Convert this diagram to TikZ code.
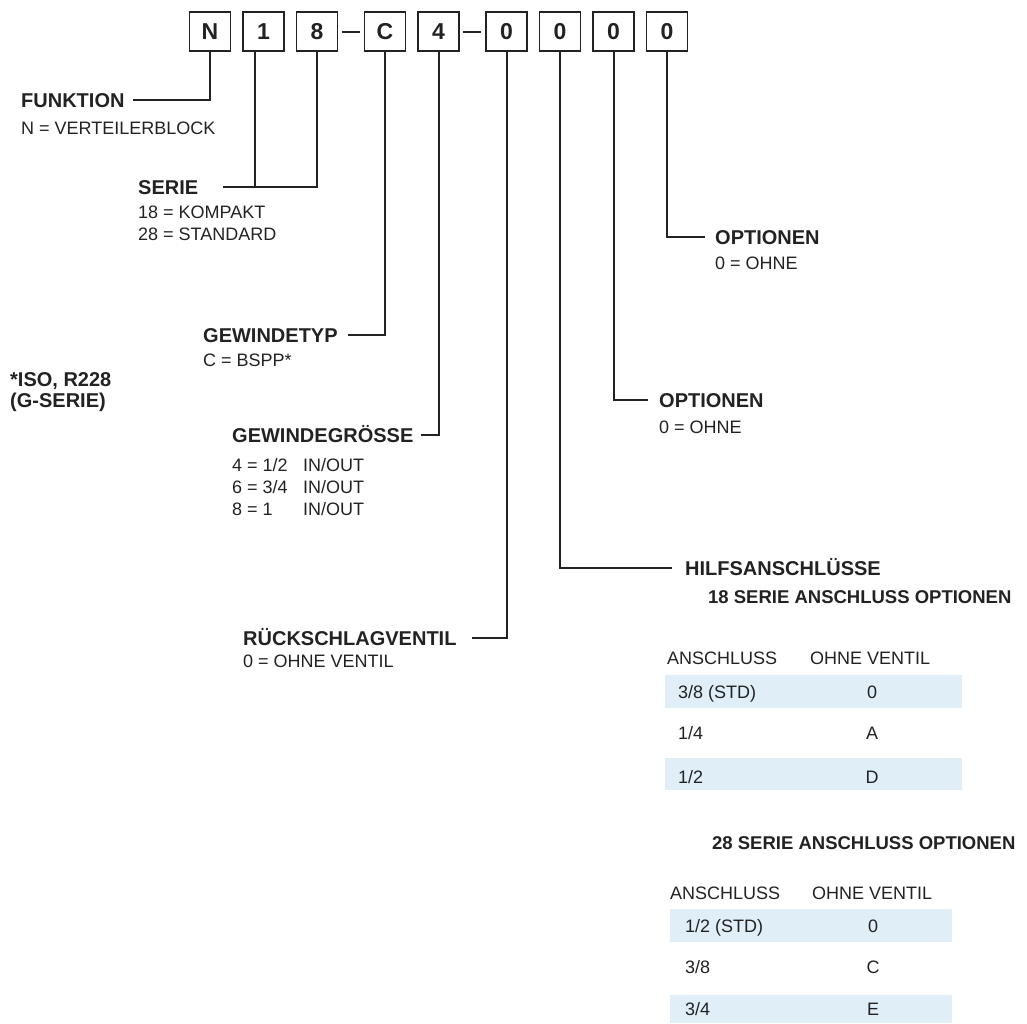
\documentclass[tikz,border=0pt]{standalone}
\usepackage{fontspec}
\setmainfont{Liberation Sans}
\usetikzlibrary{positioning}
\definecolor{bandblue}{RGB}{224,238,248}
\definecolor{inkgray}{RGB}{34,34,34}
\newcommand{\hfont}{\fontsize{20}{20}\selectfont\bfseries}
\newcommand{\dfont}{\fontsize{18}{22}\selectfont}
\newcommand{\tfont}{\fontsize{18.5}{18.5}\selectfont\bfseries}

\begin{document}
\begin{tikzpicture}[x=1pt, y=-1pt,
  digit/.style={draw=inkgray, line width=1.8pt, minimum width=41pt, minimum height=39pt,
                inner sep=0pt, outer sep=0pt, font=\fontsize{23}{23}\selectfont\bfseries, text=inkgray},
  head/.style={anchor=west, inner sep=0pt, font=\hfont, text=inkgray,
               text height=14.3pt, text depth=0pt},
  desc/.style={anchor=base west, inner sep=0pt, align=left, font=\dfont, text=inkgray},
  thead/.style={anchor=west, inner sep=0pt, font=\tfont, text=inkgray,
                text height=13.3pt, text depth=0pt},
  cell/.style={anchor=base west, inner sep=0pt, font=\dfont, text=inkgray},
  valcell/.style={anchor=base, inner sep=0pt, font=\dfont, text=inkgray},
  conn/.style={draw=inkgray, line width=2pt},
  band/.style={fill=bandblue, draw=none},
]
\useasboundingbox (0,0) rectangle (1027,1023);

% code boxes N18-C4-0000
\node[digit] (bN) at (210,31.5) {N};
\node[digit, right=12.5pt of bN] (b1) {1};
\node[digit, right=12.5pt of b1] (b8) {8};
\node[digit, right=27pt of b8] (bC) {C};
\node[digit, right=12.5pt of bC] (b4) {4};
\node[digit, right=27pt of b4] (b0a) {0};
\node[digit, right=12.5pt of b0a] (b0b) {0};
\node[digit, right=12.5pt of b0b] (b0c) {0};
\node[digit, right=12.5pt of b0c] (b0d) {0};

% dashes between groups
\draw[conn, shorten <=4pt, shorten >=5pt] (b8) -- (bC);
\draw[conn, shorten <=4pt, shorten >=5pt] (b4) -- (b0a);

% left hand labels (base of a multi-line desc is its last line)
\node[head] (funk) at (21,100) {FUNKTION};
\node[desc] (funkD) at ([yshift=-27pt]funk.base west) {N = VERTEILERBLOCK};

\node[head] (serie) at (138,187) {SERIE};
\node[desc] (serieD) at ([yshift=-46pt]serie.base west) {18 = KOMPAKT\\28 = STANDARD};

\node[head] (gtyp) at (203,335) {GEWINDETYP};
\node[desc] (gtypD) at ([yshift=-24pt]gtyp.base west) {C = BSPP*};

\node[desc, font=\fontsize{20}{20.5}\selectfont\bfseries] (iso) at (10,407) {*ISO, R228\\(G-SERIE)};

\node[head] (ggr) at (232,435) {GEWINDEGRÖSSE};
\node[desc] (ggrD) at ([yshift=-73pt]ggr.base west) {%
  \makebox[71pt][l]{4 = 1/2}IN/OUT\\
  \makebox[71pt][l]{6 = 3/4}IN/OUT\\
  \makebox[71pt][l]{8 = 1}IN/OUT};

\node[head] (rsv) at (243,638) {RÜCKSCHLAGVENTIL};
\node[desc] (rsvD) at ([yshift=-22pt]rsv.base west) {0 = OHNE VENTIL};

% right hand labels
\node[head] (opt1) at (715,237) {OPTIONEN};
\node[desc] (opt1D) at ([yshift=-25pt]opt1.base west) {0 = OHNE};

\node[head] (opt2) at (659,400) {OPTIONEN};
\node[desc] (opt2D) at ([yshift=-26pt]opt2.base west) {0 = OHNE};

\node[head] (hilfs) at (685,568) {HILFSANSCHLÜSSE};

% connectors
\draw[conn] (bN.south) |- ([xshift=8pt]funk.east);
\draw[conn] ([xshift=-9pt]b1.south) -- ([xshift=-9pt]b1.south |- serie.east);
\draw[conn] (b8.south) |- ([xshift=25pt]serie.east);
\draw[conn] (bC.south) |- ([xshift=10pt]gtyp.east);
\draw[conn] (b4.south) |- ([xshift=7pt]ggr.east);
\draw[conn] (b0a.south) |- ([xshift=15pt]rsv.east);
\draw[conn] (b0b.south) |- ([xshift=-13pt]hilfs.west);
\draw[conn] (b0c.south) |- ([xshift=-11pt]opt2.west);
\draw[conn] (b0d.south) |- ([xshift=-10pt]opt1.west);

% table 18 serie
\node[thead] (t18) at (708,597) {18 SERIE ANSCHLUSS OPTIONEN};
\fill[band] (665,675) rectangle (962,708);
\fill[band] (665,758) rectangle (962,790);
\node[cell] (t18h1) at (667,664.5) {ANSCHLUSS};
\node[cell] (t18h2) at (810,664.5) {OHNE VENTIL};
\node[cell] (t18a) at (678,698.5) {3/8 (STD)};
\node[valcell] (t18av) at (872,698.5) {0};
\node[cell] (t18b) at (678,739.5) {1/4};
\node[valcell] (t18bv) at (872,739.5) {A};
\node[cell] (t18c) at (678,783.5) {1/2};
\node[valcell] (t18cv) at (872,783.5) {D};

% table 28 serie
\node[thead] (t28) at (712,843) {28 SERIE ANSCHLUSS OPTIONEN};
\fill[band] (670,909) rectangle (952,942);
\fill[band] (670,995) rectangle (952,1023);
\node[cell] (t28h1) at (670,899.5) {ANSCHLUSS};
\node[cell] (t28h2) at (812,899.5) {OHNE VENTIL};
\node[cell] (t28a) at (685,932.5) {1/2 (STD)};
\node[valcell] (t28av) at (873,932.5) {0};
\node[cell] (t28b) at (685,973.5) {3/8};
\node[valcell] (t28bv) at (873,973.5) {C};
\node[cell] (t28c) at (685,1015.5) {3/4};
\node[valcell] (t28cv) at (873,1015.5) {E};

\end{tikzpicture}
\end{document}
